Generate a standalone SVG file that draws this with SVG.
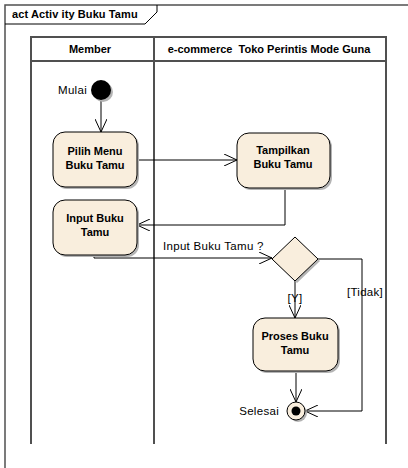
<svg xmlns="http://www.w3.org/2000/svg" width="408" height="468" viewBox="0 0 408 468">
<style>
text{font-family:"Liberation Sans",Arial,sans-serif;font-size:11.5px;letter-spacing:0.3px;fill:#000}
.b{font-weight:bold;font-size:11px;letter-spacing:0}
.act{fill:#F9EEDD;stroke:#000;stroke-width:1}
.sh{fill:#B4B4B4;stroke:none}
.lane{fill:none;stroke:#505050;stroke-width:2}
.c{fill:none;stroke:#000;stroke-width:1}
</style>
<defs>
<marker id="ah" markerWidth="14" markerHeight="12" refX="13" refY="6" orient="auto" markerUnits="userSpaceOnUse">
<path d="M0,0 L13,6 L0,12" fill="none" stroke="#000" stroke-width="1"/>
</marker>
</defs>
<rect width="408" height="468" fill="#fff"/>
<g id="frame">
<path d="M5,470 L5,5 L410,5" fill="none" stroke="#505050" stroke-width="1.5"/>
<path d="M5,24 L145,24 L157,12 L157,5" fill="none" stroke="#000" stroke-width="1"/>
<text x="12" y="18" class="b" style="letter-spacing:0.1px">act Activ ity Buku Tamu</text>
</g>
<g id="lanes">
<path class="lane" d="M31,444 L31,37 L386,37 L386,444"/>
<path class="lane" d="M31,61 L386,61"/>
<path class="lane" d="M154,37 L154,444"/>
<text x="90" y="53" class="b" text-anchor="middle">Member</text>
<text x="269" y="53" class="b" text-anchor="middle" xml:space="preserve">e-commerce  Toko Perintis Mode Guna</text>
</g>
<g id="connectors">
<path class="c" d="M101,100 L101,132" marker-end="url(#ah)"/>
<path class="c" d="M137,160 L237,160" marker-end="url(#ah)"/>
<path class="c" d="M285,188 L285,225 L137,225" marker-end="url(#ah)"/>
<path class="c" d="M94,255 L94,258 L272,258" marker-end="url(#ah)"/>
<path class="c" d="M295,281 L295,318" marker-end="url(#ah)"/>
<path class="c" d="M296,371 L296,402" marker-end="url(#ah)"/>
<path class="c" d="M318,259 L362,259 L362,411 L305,411" marker-end="url(#ah)"/>
<text x="163" y="250">Input Buku Tamu ?</text>
<text x="295" y="302" text-anchor="middle">[Y]</text>
<text x="365" y="296" text-anchor="middle">[Tidak]</text>
</g>
<g id="start">
<circle cx="103" cy="92" r="10" fill="#B4B4B4"/>
<circle cx="101" cy="90" r="10" fill="#000"/>
<text x="87" y="94" text-anchor="end">Mulai</text>
</g>
<g id="pilih">
<rect class="sh" x="55" y="134" width="84" height="55" rx="12"/>
<rect class="act" x="53" y="132" width="84" height="55" rx="12"/>
<text x="95" y="155" class="b" text-anchor="middle">Pilih Menu</text>
<text x="95" y="169" class="b" text-anchor="middle">Buku Tamu</text>
</g>
<g id="input">
<rect class="sh" x="55" y="202" width="84" height="55" rx="12"/>
<rect class="act" x="53" y="200" width="84" height="55" rx="12"/>
<text x="95" y="222" class="b" text-anchor="middle">Input Buku</text>
<text x="95" y="236" class="b" text-anchor="middle">Tamu</text>
</g>
<g id="tampilkan">
<rect class="sh" x="239" y="135" width="93" height="55" rx="12"/>
<rect class="act" x="237" y="133" width="93" height="55" rx="12"/>
<text x="283" y="154" class="b" text-anchor="middle">Tampilkan</text>
<text x="283" y="168" class="b" text-anchor="middle">Buku Tamu</text>
</g>
<g id="decision">
<path class="sh" d="M297,239 L320,261 L297,283 L274,261 Z"/>
<path class="act" d="M295,237 L318,259 L295,281 L272,259 Z"/>
</g>
<g id="proses">
<rect class="sh" x="255" y="320" width="85" height="53" rx="12"/>
<rect class="act" x="253" y="318" width="85" height="53" rx="12"/>
<text x="295" y="340" class="b" text-anchor="middle">Proses Buku</text>
<text x="295" y="354" class="b" text-anchor="middle">Tamu</text>
</g>
<g id="end">
<circle cx="298" cy="413" r="9" fill="#B4B4B4"/>
<circle cx="296" cy="411" r="9" fill="#F9EEDD" stroke="#000"/>
<circle cx="296" cy="411" r="4.5" fill="#000"/>
<text x="279" y="415" text-anchor="end">Selesai</text>
</g>
</svg>
